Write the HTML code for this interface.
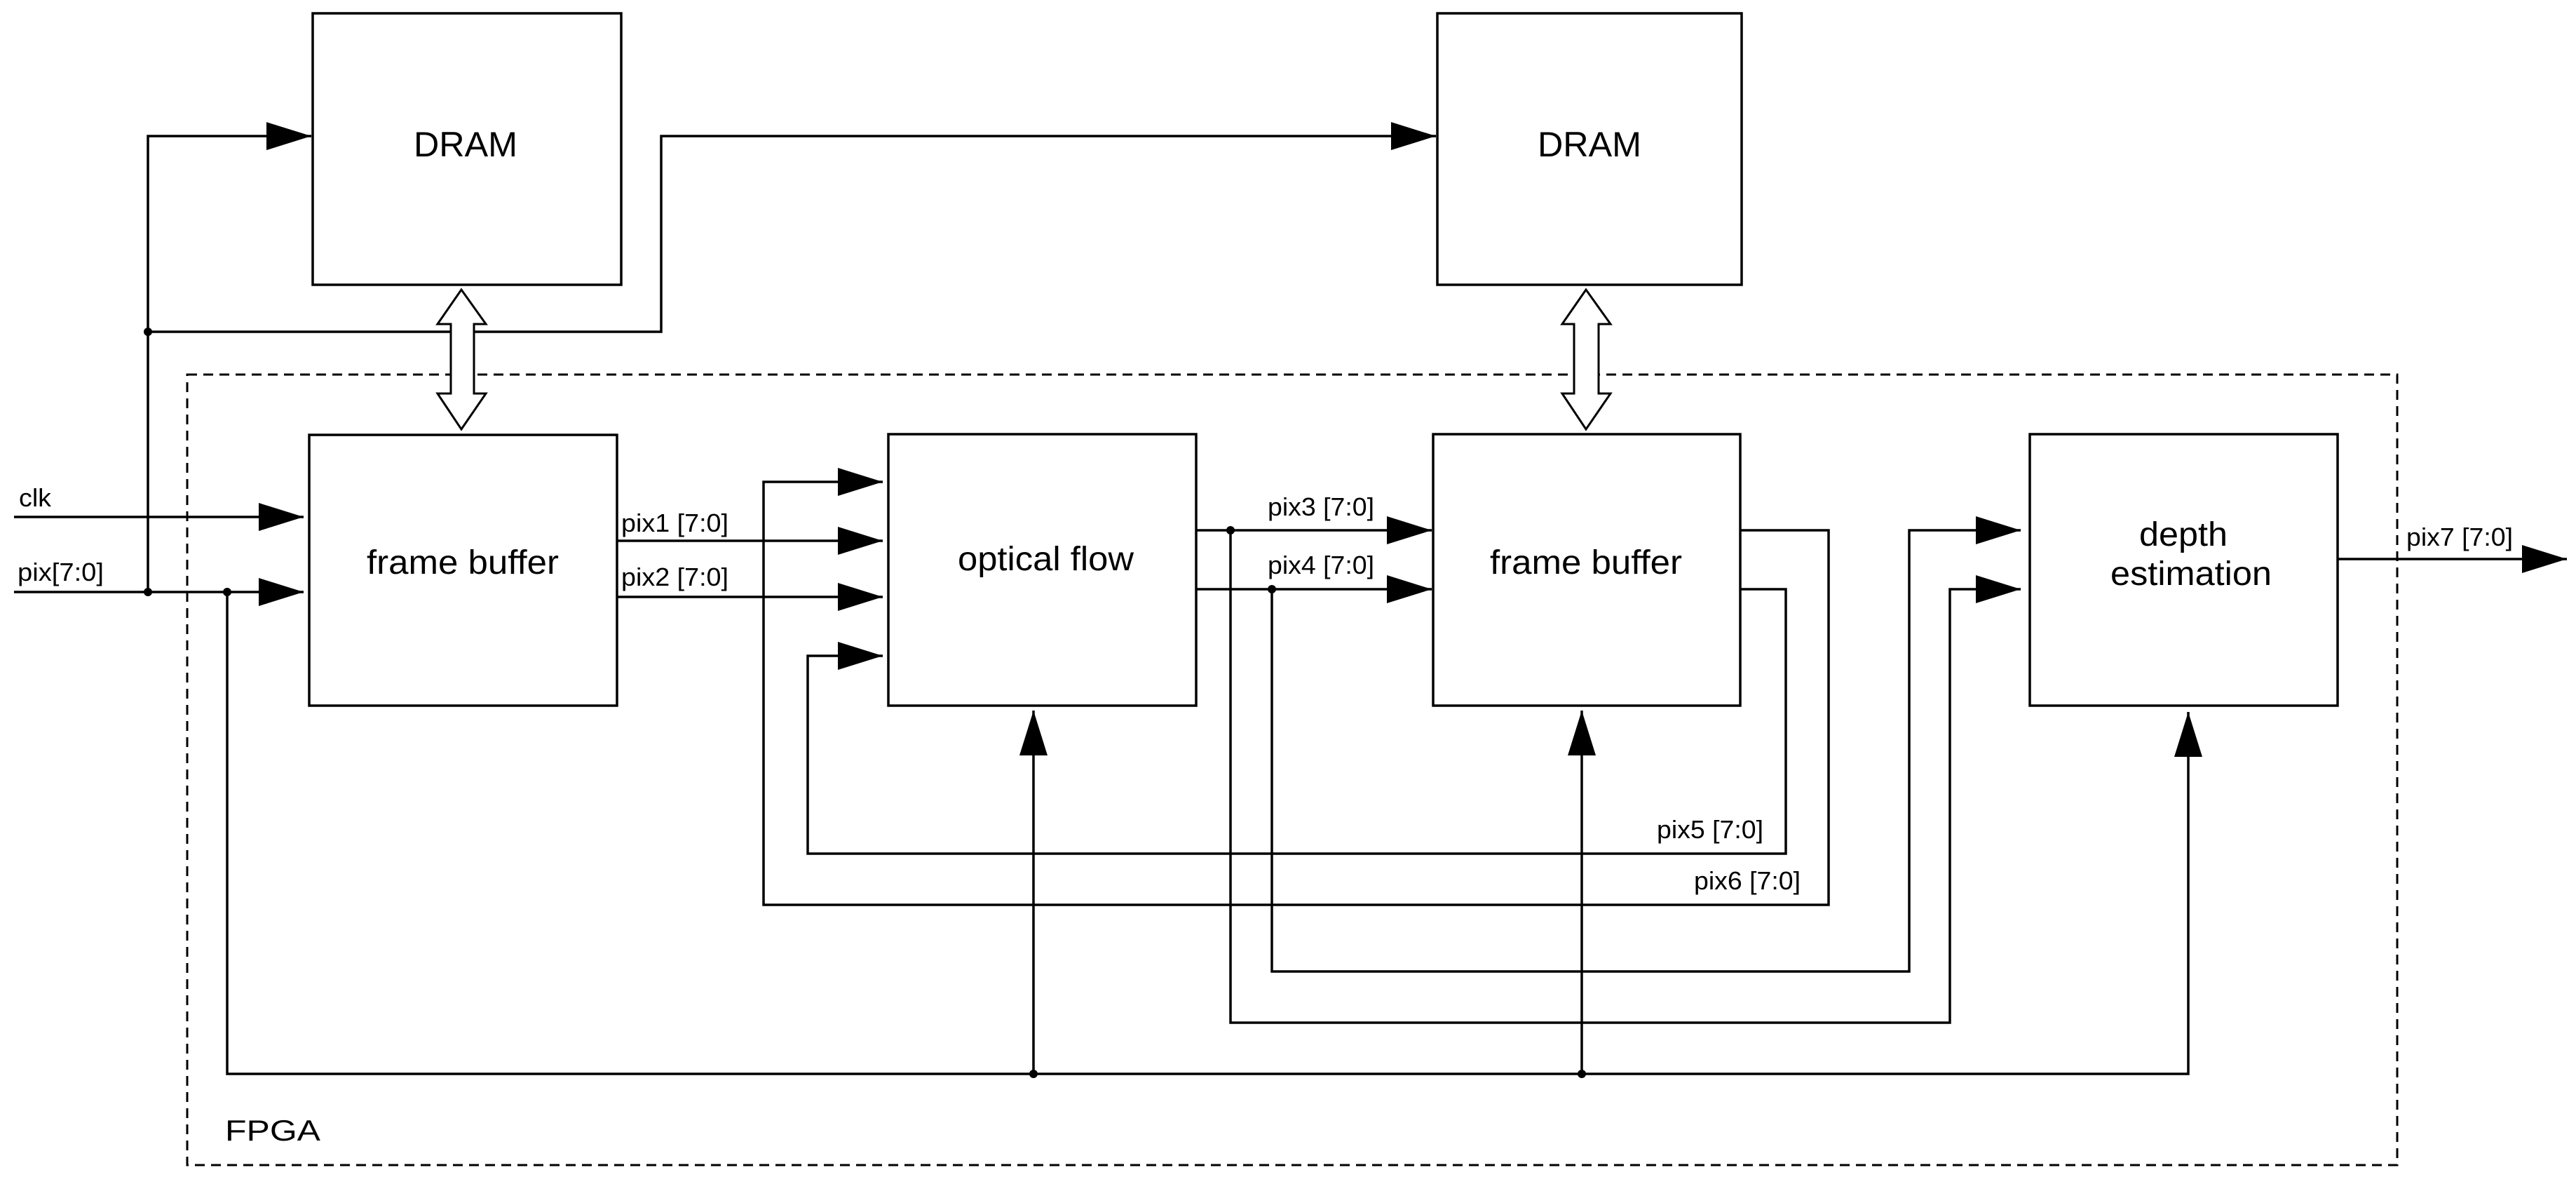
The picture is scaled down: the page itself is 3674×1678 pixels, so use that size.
<!DOCTYPE html>
<html><head><meta charset="utf-8"><style>html,body{margin:0;padding:0;background:#fff}svg{display:block}</style></head>
<body>
<svg width="3674" height="1678" viewBox="0 0 3674 1678" xmlns="http://www.w3.org/2000/svg">
<defs>
<marker id="a" markerUnits="userSpaceOnUse" markerWidth="66" markerHeight="42" refX="64" refY="20" orient="auto"><path d="M0,0 L64,20 L0,40 Z" fill="#000"/></marker>
</defs>
<g fill="none" stroke="#000" stroke-width="3.5">
<!-- FPGA -->
<rect x="267" y="534" width="3152" height="1127" stroke-dasharray="14,9" stroke-width="3"/>
<!-- blocks -->
<rect x="446" y="19" width="440" height="387"/>
<rect x="2050" y="19" width="434" height="387"/>
<rect x="441" y="620" width="439" height="386"/>
<rect x="1267" y="619" width="439" height="387"/>
<rect x="2044" y="619" width="438" height="387"/>
<rect x="2895" y="619" width="439" height="387"/>
<!-- inputs -->
<line x1="20" y1="737" x2="433" y2="737" marker-end="url(#a)"/>
<line x1="20" y1="844" x2="433" y2="844" marker-end="url(#a)"/>
<polyline points="211,844 211,194 444,194" marker-end="url(#a)"/>
<polyline points="211,473 943,473 943,194 2048,194" marker-end="url(#a)"/>
<!-- bottom bus -->
<polyline points="324,844 324,1531 3121,1531 3121,1015" marker-end="url(#a)"/>
<line x1="1474" y1="1531" x2="1474" y2="1013" marker-end="url(#a)"/>
<line x1="2256" y1="1531" x2="2256" y2="1013" marker-end="url(#a)"/>
<!-- pix1/pix2 -->
<line x1="880" y1="771" x2="1259" y2="771" marker-end="url(#a)"/>
<line x1="880" y1="851" x2="1259" y2="851" marker-end="url(#a)"/>
<!-- feedback -->
<polyline points="2482,756 2608,756 2608,1290 1089,1290 1089,687 1259,687" marker-end="url(#a)"/>
<polyline points="2482,840 2547,840 2547,1217 1152,1217 1152,935 1259,935" marker-end="url(#a)"/>
<!-- pix3/pix4 -->
<line x1="1706" y1="756" x2="2042" y2="756" marker-end="url(#a)"/>
<line x1="1706" y1="840" x2="2042" y2="840" marker-end="url(#a)"/>
<polyline points="1814,840 1814,1385 2723,1385 2723,756 2882,756" marker-end="url(#a)"/>
<polyline points="1755,756 1755,1458 2781,1458 2781,840 2882,840" marker-end="url(#a)"/>
<!-- output -->
<line x1="3334" y1="797" x2="3661" y2="797" marker-end="url(#a)"/>
<!-- double arrows -->
<path d="M658,413 L693,462 L676,462 L676,561 L693,561 L658,612 L624,561 L643,561 L643,462 L624,462 Z" fill="#fff" stroke-width="3"/>
<path d="M2262,413 L2297,462 L2280,462 L2280,561 L2297,561 L2262,612 L2228,561 L2245,561 L2245,462 L2228,462 Z" fill="#fff" stroke-width="3"/>
</g>
<g fill="#000">
<circle cx="211" cy="473" r="6"/><circle cx="211" cy="844" r="6"/><circle cx="324" cy="844" r="6"/>
<circle cx="1474" cy="1531" r="6"/><circle cx="2256" cy="1531" r="6"/>
<circle cx="1755" cy="756" r="6"/><circle cx="1814" cy="840" r="6"/>
</g>
<g font-family="Liberation Sans, Arial, sans-serif" fill="#000">
<text x="590" y="223" font-size="50" textLength="148" lengthAdjust="spacingAndGlyphs">DRAM</text>
<text x="2193" y="223" font-size="50" textLength="148" lengthAdjust="spacingAndGlyphs">DRAM</text>
<text x="523" y="818" font-size="48" textLength="274" lengthAdjust="spacingAndGlyphs">frame buffer</text>
<text x="1366" y="813" font-size="48" textLength="251" lengthAdjust="spacingAndGlyphs">optical flow</text>
<text x="2125" y="818" font-size="48" textLength="274" lengthAdjust="spacingAndGlyphs">frame buffer</text>
<text x="3051" y="778" font-size="48" textLength="126" lengthAdjust="spacingAndGlyphs">depth</text>
<text x="3010" y="834" font-size="48" textLength="230" lengthAdjust="spacingAndGlyphs">estimation</text>
<text x="27" y="722" font-size="36" textLength="46" lengthAdjust="spacingAndGlyphs">clk</text>
<text x="25" y="828" font-size="36" textLength="123" lengthAdjust="spacingAndGlyphs">pix[7:0]</text>
<text x="886" y="758" font-size="36" textLength="153" lengthAdjust="spacingAndGlyphs">pix1 [7:0]</text>
<text x="886" y="835" font-size="36" textLength="153" lengthAdjust="spacingAndGlyphs">pix2 [7:0]</text>
<text x="1808" y="735" font-size="36" textLength="152" lengthAdjust="spacingAndGlyphs">pix3 [7:0]</text>
<text x="1808" y="818" font-size="36" textLength="152" lengthAdjust="spacingAndGlyphs">pix4 [7:0]</text>
<text x="2363" y="1195" font-size="36" textLength="152" lengthAdjust="spacingAndGlyphs">pix5 [7:0]</text>
<text x="2416" y="1268" font-size="36" textLength="152" lengthAdjust="spacingAndGlyphs">pix6 [7:0]</text>
<text x="3432" y="778" font-size="36" textLength="152" lengthAdjust="spacingAndGlyphs">pix7 [7:0]</text>
<text x="321" y="1626" font-size="42" textLength="136" lengthAdjust="spacingAndGlyphs">FPGA</text>
</g>
</svg>
</body></html>
